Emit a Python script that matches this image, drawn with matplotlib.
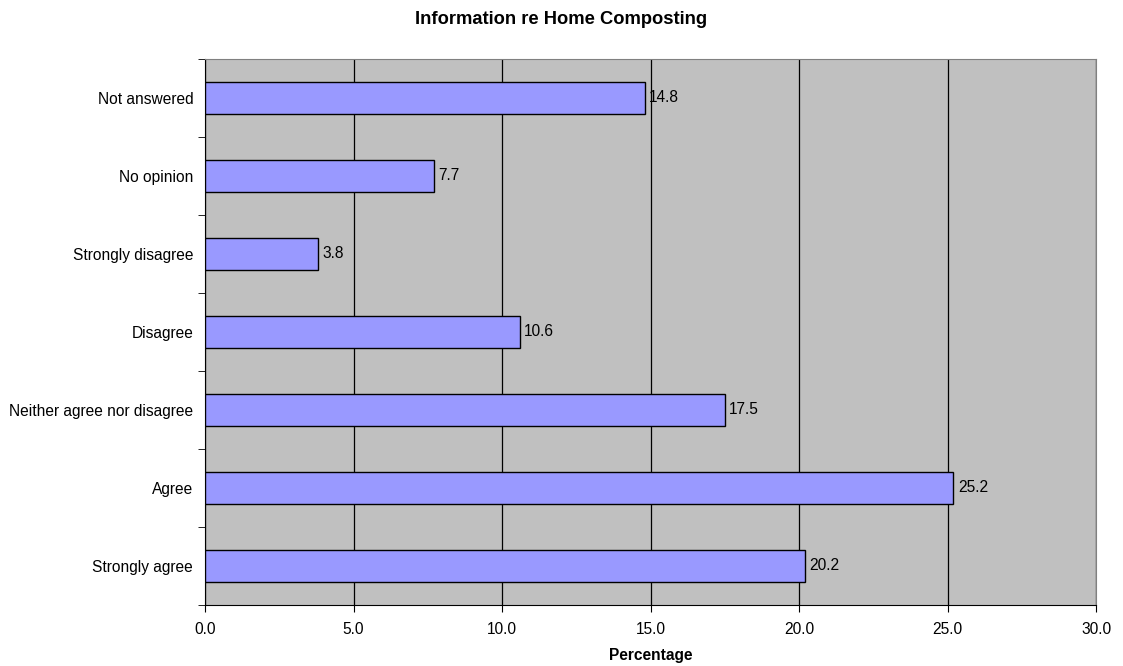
import numpy as np
import matplotlib.pyplot as plt
from matplotlib.ticker import FixedLocator

plt.rcParams['font.family'] = ['Liberation Sans', 'DejaVu Sans']

categories = ["Strongly agree", "Agree", "Neither agree nor disagree", "Disagree",
              "Strongly disagree", "No opinion", "Not answered"]
values = [20.2, 25.2, 17.5, 10.6, 3.8, 7.7, 14.8]
x_ticks = [0, 5, 10, 15, 20, 25, 30]

fs = 11.2

fig = plt.figure(figsize=(11.23, 6.66), dpi=100)
ax = fig.add_axes([205 / 1123, 1 - 605 / 666, (1096 - 205) / 1123, (605 - 59) / 666])
ax.set_facecolor('#c0c0c0')

y = np.arange(len(categories))
ax.barh(y, values, height=0.4, color='#9999ff', edgecolor='black', linewidth=1, zorder=3)
for yi, v in zip(y, values):
    ax.text(v + 0.15, yi, f"{v:.1f}", va='center', ha='left', fontsize=fs, zorder=4)

ax.set_xlim(0, 30)
ax.set_ylim(-0.5, len(categories) - 0.5)
ax.set_xticks(x_ticks)
ax.set_xticklabels([f"{t:.1f}" for t in x_ticks], fontsize=fs)
ax.set_yticks(y)
ax.set_yticklabels(categories, fontsize=fs)
ax.tick_params(axis='y', length=0, pad=8.5)
ax.yaxis.set_minor_locator(FixedLocator(np.arange(-0.5, len(categories), 1.0)))
ax.tick_params(axis='y', which='minor', length=5, direction='out')
ax.tick_params(axis='x', length=5, direction='out', pad=7)
ax.xaxis.grid(True, color='black', linewidth=0.9, zorder=0)
ax.set_axisbelow(True)

for side in ['left', 'bottom']:
    ax.spines[side].set_color('black')
ax.spines['top'].set_color('#808080')
ax.spines['right'].set_color('#808080')

ax.set_xlabel("Percentage", fontsize=fs, fontweight='bold', labelpad=8)
fig.text(0.5, 1 - 20 / 666, "Information re Home Composting", ha='center', va='center',
         fontsize=13.2, fontweight='bold')

fig.savefig('out.png', dpi=100)
